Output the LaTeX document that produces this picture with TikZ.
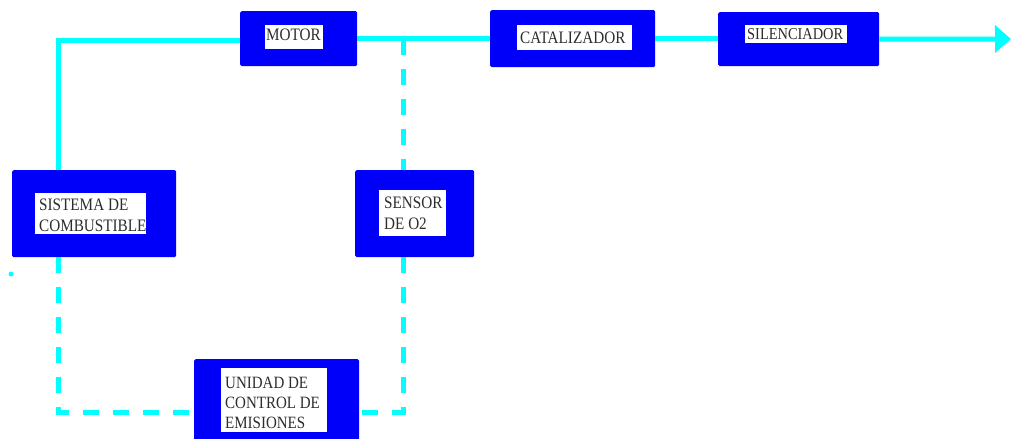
\documentclass[tikz,border=0pt]{standalone}
\usepackage{fontspec}
\setmainfont{Liberation Serif}
\usetikzlibrary{arrows.meta,calc}
\definecolor{blockblue}{RGB}{0,0,250}
\definecolor{flowcyan}{RGB}{0,255,255}
\definecolor{labelgray}{RGB}{45,45,45}
\begin{document}
\begin{tikzpicture}[x=1pt,y=-1pt,
  block/.style={fill=blockblue, rounded corners=1.5pt, inner sep=0pt, anchor=north west},
  panel/.style={fill=white, inner sep=0pt, anchor=north west},
  caption/.style={inner sep=0pt, anchor=north west, text=labelgray, align=left,
    yscale=1.15, font=\fontsize{15.2}{18.4}\selectfont},
  flow/.style={draw=flowcyan, line width=5pt},
  signal/.style={draw=flowcyan, line width=5pt, dash pattern=on 16pt off 14pt},
]
\useasboundingbox (0,0) rectangle (1012,439);

% blue blocks
\node[block, minimum width=117pt, minimum height=55pt] (motor)  at (240,11)  {};
\node[block, minimum width=165pt, minimum height=57pt] (cat)    at (490,10)  {};
\node[block, minimum width=161pt, minimum height=54pt] (sil)    at (718,12)  {};
\node[block, minimum width=164pt, minimum height=87pt] (fuel)   at (12,170)  {};
\node[block, minimum width=119pt, minimum height=87pt] (sensor) at (355,170) {};
\node[block, minimum width=165pt, minimum height=90pt] (ecu)    at (194,359) {};

% white label panels
\node[panel, minimum width=58pt,  minimum height=24pt] (motorp)  at (265,25)  {};
\node[panel, minimum width=115pt, minimum height=25pt] (catp)    at (517,25)  {};
\node[panel, minimum width=102pt, minimum height=18pt] (silp)    at (745,25)  {};
\node[panel, minimum width=111pt, minimum height=41pt] (fuelp)   at (35,193)  {};
\node[panel, minimum width=67pt,  minimum height=46pt] (sensorp) at (379,190) {};
\node[panel, minimum width=106pt, minimum height=64pt] (ecup)    at (221,368) {};

% labels
\node[caption] (motort)  at (266,29) {MOTOR};
\node[caption] (catt)    at (520,32)   {CATALIZADOR};
\node[caption, font=\fontsize{14.4}{18.4}\selectfont] (silt) at (747,28) {SILENCIADOR};
\node[caption] (fuelt)   at (39,199) {SISTEMA DE\\COMBUSTIBLE};
\node[caption] (sensort) at (384,196.5)  {SENSOR\\DE O2};
\begin{scope}
  \clip (221,368) rectangle (327,432);
  \node[caption, font=\fontsize{15}{17.4}\selectfont] (ecut) at (225,377)
    {UNIDAD DE\\CONTROL DE\\EMISIONES};
\end{scope}

% attachment points
\coordinate (fuelout) at ([xshift=46pt]fuel.north west);
\coordinate (fuelret) at ([xshift=46pt]fuel.south west);
\coordinate (motorin) at ([yshift=-1.5pt]motor.west);
\coordinate (sensin)  at ([xshift=48pt]sensor.north west);
\coordinate (sensout) at ([xshift=48pt]sensor.south west);
\coordinate (tap)     at (sensin |- motor.east);
\coordinate (ecul)    at ([yshift=-53pt]ecu.north west);
\coordinate (ecur)    at ([yshift=-53pt]ecu.north east);
\coordinate (exhaust) at (1011,39);

% gas flow
\draw[flow] (fuelout) |- (motorin);
\draw[flow] (motor.east) -- (cat.west);
\draw[flow] (cat.east) -- (cat.east -| sil.west);
\draw[flow, -{Triangle[length=16pt,width=27pt]}] (sil.east) -- (exhaust);

% control signals
\draw[signal] (tap) -- (sensin);
\draw[signal] (sensout) |- (ecur);
\draw[signal] (fuelret) |- (ecul);

\fill[flowcyan] (11,274) circle (2.4pt);
\end{tikzpicture}
\end{document}
